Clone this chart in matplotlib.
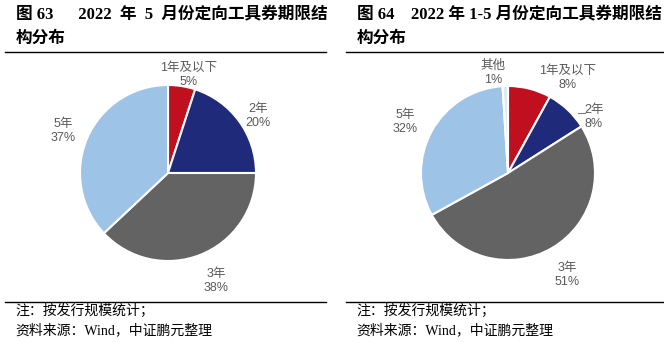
import matplotlib
matplotlib.use("Agg")
import matplotlib.pyplot as plt

# data
terms_may = ["1年及以下", "2年", "3年", "5年"]
share_may = [5, 20, 38, 37]

terms_ytd = ["1年及以下", "2年", "3年", "5年", "其他"]
share_ytd = [8, 8, 51, 32, 1]

colors = {
    "1年及以下": "#C00F1F",
    "2年": "#1F2A7B",
    "3年": "#636363",
    "5年": "#9DC3E6",
    "其他": "#DDEBF7",
}

W, H = 664, 342
TITLE_FONT = ["Liberation Serif", "Noto Sans CJK SC"]
LABEL_FONT = ["Liberation Sans", "Noto Sans CJK SC"]
LABEL_COLOR = "#595959"

fig = plt.figure(figsize=(W / 100, H / 100), dpi=100)


def px(x, y):
    return x / W, 1 - y / H


def draw_pie(cx, cy, r, labels, values, offsets, leader=None):
    s = r * 1.5
    x0, y0 = px(cx - s, cy + s)
    ax = fig.add_axes([x0, y0, 2 * s / W, 2 * s / H])
    ax.pie(values, colors=[colors[t] for t in labels], startangle=90,
           counterclock=False, radius=1,
           wedgeprops=dict(edgecolor="white", linewidth=1.5))
    ax.set_xlim(-1.5, 1.5)
    ax.set_ylim(-1.5, 1.5)
    ax.set_aspect("equal")
    ax.axis("off")
    for t, v, (dx, dy) in zip(labels, values, offsets):
        ax.text(dx, dy, f"{t}\n{v}%", ha="center", va="center",
                fontsize=9, color=LABEL_COLOR, family=LABEL_FONT,
                linespacing=1.3)
    if leader is not None:
        ax.plot(leader[0], leader[1], color="#7F7F7F", lw=0.8, zorder=5)
    return ax


def draw_frame(x_left, x_right, title1, title2):
    fig.text(*px(x_left + 11, 15), title1, fontsize=12, fontweight="bold",
             family=TITLE_FONT, va="center", ha="left")
    fig.text(*px(x_left + 11, 39), title2, fontsize=12, fontweight="bold",
             family=TITLE_FONT, va="center", ha="left")
    for yy in (52, 302):
        a = px(x_left, yy)
        b = px(x_right, yy)
        fig.add_artist(plt.Line2D([a[0], b[0]], [a[1], b[1]],
                                  color="black", lw=1.0))
    fig.text(*px(x_left + 10, 311), "注：按发行规模统计；", fontsize=10,
             family=TITLE_FONT, va="center", ha="left")
    fig.text(*px(x_left + 10, 330), "资料来源：Wind，中证鹏元整理", fontsize=10,
             family=TITLE_FONT, va="center", ha="left")


draw_frame(5, 326, "图 63      2022  年  5  月份定向工具券期限结", "构分布")
draw_frame(346, 664, "图 64    2022 年 1-5 月份定向工具券期限结", "构分布")

r1 = 88
draw_pie(168, 173, r1, terms_may, share_may,
         [(21 / r1, 98 / r1), (90 / r1, 57 / r1),
          (48 / r1, -108 / r1), (-105 / r1, 42 / r1)])

r2 = 87
draw_pie(508, 173, r2, terms_ytd, share_ytd,
         [(60 / r2, 95 / r2), (86 / r2, 56 / r2), (59 / r2, -102 / r2),
          (-103 / r2, 51 / r2), (-15 / r2, 100 / r2)],
         leader=([70 / r2, 77 / r2], [60 / r2, 60 / r2]))

fig.savefig("out.png", dpi=100)
